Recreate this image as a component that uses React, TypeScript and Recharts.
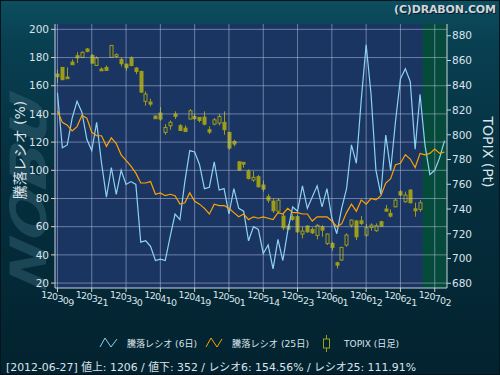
import React from "react";
import {
  ComposedChart,
  Line,
  Bar,
  XAxis,
  YAxis,
  CartesianGrid,
  ReferenceArea,
  ReferenceLine,
} from "recharts";

// trading days (yymmdd)
const dates = [
  "120309", "120312", "120313", "120314", "120315", "120316", "120319", "120321", "120322", "120323",
  "120326", "120327", "120328", "120329", "120330", "120402", "120403", "120404", "120405", "120406",
  "120409", "120410", "120411", "120412", "120413", "120416", "120417", "120418", "120419", "120420",
  "120423", "120424", "120425", "120426", "120427", "120501", "120502", "120507", "120508", "120509",
  "120510", "120511", "120514", "120515", "120516", "120517", "120518", "120521", "120522", "120523",
  "120524", "120525", "120528", "120529", "120530", "120531", "120601", "120604", "120605", "120606",
  "120607", "120608", "120611", "120612", "120613", "120614", "120615", "120618", "120619", "120620",
  "120621", "120622", "120625", "120626", "120627", "120628", "120629", "120702", "120703", "120704",
];

// 騰落レシオ (6日)
const ratio6 = [
  155, 116, 118, 137, 149, 141, 122, 114, 134, 105,
  81, 102, 83, 100, 90, 92, 90, 49, 50, 46,
  36, 37, 36, 53, 69, 65, 92, 114, 113, 104,
  87, 88, 106, 86, 87, 69, 87, 73, 71, 50,
  60, 58, 41, 47, 30, 51, 36, 57, 74, 71,
  89, 73, 81, 89, 74, 87, 66, 55, 73, 87,
  118, 105, 150, 189, 154, 100, 83, 125, 100, 135,
  165, 172, 163, 115, 154, 118, 97, 100, 109, 121,
];

// 騰落レシオ (25日)
const ratio25 = [
  142, 134, 132, 128, 131, 139, 137, 127, 124.5, 124.5,
  117, 123, 119, 111, 107, 103, 98, 91, 91, 92,
  83, 84, 82, 83, 82, 76, 77, 84, 78, 76,
  73, 69, 76, 75, 75, 73, 70, 67, 69, 65,
  67, 66, 67, 66, 65, 70, 69, 73, 70, 70,
  69, 69, 64, 67, 67, 67, 64, 60, 62, 70,
  76, 71, 79, 76, 80, 79, 82, 91, 94, 104,
  105, 111, 108, 102, 112, 111, 112, 115, 112, 113,
];

// TOPIX daily candles
const topixOpen = [
  849, 854.4, 846.6, 858.7, 863.9, 862.5, 869.3, 864.1, 856, 853.1,
  854.4, 862.5, 863.3, 860.9, 857.1, 862, 853.9, 851.2, 827, 826.4,
  815.1, 817.5, 801.9, 807.3, 816.7, 807.3, 805.4, 812.7, 814.8, 814,
  814.3, 804.1, 808.6, 809.4, 810, 801.9, 794.6, 778.2, 777.7, 770.7,
  763.4, 766.1, 759.4, 749.9, 746.4, 738.3, 734.3, 726.2, 733.8, 733.8,
  719.8, 726.2, 723.5, 718.7, 725.7, 712.2, 712.2, 696.6, 698.8, 710.9,
  727, 730.3, 730.5, 718.9, 725.1, 722.5, 729.7, 740, 736.5, 741.8,
  754, 745.9, 755.3, 740.2, 739.7,
];
const topixHigh = [
  852.6, 854.4, 854.4, 860.9, 866.8, 867.4, 870.1, 865.2, 863.3, 854.4,
  856, 872.2, 865.8, 862.2, 857.1, 863.3, 854.7, 851.7, 835, 829.1,
  815.6, 822.4, 808.6, 811.6, 818.9, 808.6, 807.6, 820.8, 816.7, 814,
  818.9, 806.8, 813.5, 816.7, 818.9, 801.9, 796, 778.7, 777.7, 772,
  770.7, 767.4, 762.9, 752.1, 748.6, 748.6, 736.5, 727.8, 735.9, 735.1,
  725.7, 727, 725.1, 727.8, 727, 720.3, 713.6, 697.4, 709.5, 720.3,
  731.6, 731.1, 734.3, 727.8, 728.4, 728.4, 730.5, 743.2, 739.7, 748.6,
  755.3, 754, 755.9, 745.1, 747.2,
];
const topixLow = [
  841.8, 844.5, 845.3, 856.6, 857.9, 862, 866.6, 857.9, 856, 851.7,
  851.7, 862.5, 862, 855.2, 851.7, 855.2, 849, 833.7, 823.5, 822.9,
  813, 811.3, 800, 804.1, 812.7, 803.2, 802.2, 812.7, 812.1, 810,
  807.6, 800.6, 807.6, 807.6, 800, 788, 790.6, 770.9, 773.4, 763.9,
  762, 757.5, 754, 745.1, 737, 736.5, 723, 723, 730.5, 720.8,
  716.3, 720.8, 719.8, 715.5, 717.6, 710.9, 706.3, 692, 698.2, 709.5,
  725.1, 714.9, 727, 717.6, 722.5, 721.6, 725.7, 737.8, 733.2, 741.3,
  750.5, 745.1, 744.5, 733.8, 737.8,
];
const topixClose = [
  846.9, 844.5, 845.3, 856.6, 862.2, 866.6, 867.4, 857.9, 862, 851.7,
  852, 872.2, 864.7, 857.4, 854.2, 856, 851.2, 834.5, 832.9, 824.8,
  813, 812.7, 805.9, 810, 814.8, 803.5, 802.7, 819.4, 813, 811.6,
  808.6, 802.2, 812.1, 814.8, 804.1, 789.3, 792.5, 771.5, 776.3, 764.7,
  765.6, 758, 756.1, 747.2, 738.6, 747.2, 724.9, 723.8, 731.6, 721.6,
  722.2, 721.6, 720.8, 726.8, 723, 719.8, 709, 694.7, 709, 719,
  731.1, 717.6, 728.4, 724.9, 727, 726.5, 726.2, 738.3, 734.3, 747.2,
  751.3, 751.3, 745.1, 738.6, 745.1,
];

const leftTicks = [20, 40, 60, 80, 100, 120, 140, 160, 180, 200];
const rightTicks = [680, 700, 720, 740, 760, 780, 800, 820, 840, 860, 880];
const tickDates = [
  "120309", "120321", "120330", "120410", "120419", "120501",
  "120514", "120523", "120601", "120612", "120621", "120702",
];

const rows = dates.map((d, i) => ({
  d,
  r6: ratio6[i],
  r25: ratio25[i],
  o: topixOpen[i] ?? null,
  h: topixHigh[i] ?? null,
  l: topixLow[i] ?? null,
  c: topixClose[i] ?? null,
}));

const PLOT_BG = "#1b3563";
const GREEN_BG = "#054a3b";
const GRID = "rgba(185,200,225,0.5)";
const CANDLE = "#9d9d18";
const BLUE = "#8dd2f2";
const ORANGE = "#ffa200";
const TEXT = "#dce3ea";
const FONT = "'DejaVu Sans', 'Noto Sans CJK JP', sans-serif";

function Candle(props: any) {
  const { x, y, width, height, payload } = props;
  if (!payload || payload.h == null || x == null || y == null) return null;
  const top = Math.min(y, y + height);
  const bot = Math.max(y, y + height);
  const span = payload.h - payload.l;
  const py = (v: number) => (span === 0 ? top : top + ((payload.h - v) / span) * (bot - top));
  const cx = Math.round(x + width / 2) + 0.5;
  const bTop = py(Math.max(payload.o, payload.c));
  const bBot = py(Math.min(payload.o, payload.c));
  const up = payload.c > payload.o;
  return (
    <g>
      <line x1={cx} x2={cx} y1={top} y2={bot} stroke={CANDLE} strokeWidth={1} />
      <rect
        x={cx - 1.5}
        y={bTop}
        width={3}
        height={Math.max(bBot - bTop, 1.5)}
        fill={up ? PLOT_BG : CANDLE}
        stroke={CANDLE}
        strokeWidth={1}
      />
    </g>
  );
}

function DateTick(props: any) {
  const { x, y, payload } = props;
  const s = String(payload.value);
  const shifts = [0, 1.3, 0.7, 2, 1.5, 2.5];
  return (
    <text x={x} y={y + 4} textAnchor="middle" fill={TEXT} fontSize={9.5} fontFamily={FONT} letterSpacing={-0.7}>
      {s.split("").map((ch, k) => (
        <tspan key={k} dy={shifts[k]}>
          {ch}
        </tspan>
      ))}
    </text>
  );
}

export default function App() {
  const lastCandle = topixOpen.length;
  return (
    <div
      style={{
        position: "absolute",
        left: 0,
        top: 0,
        width: 500,
        height: 375,
        overflow: "hidden",
        background: "linear-gradient(180deg, #0c4e5f 0%, #083f51 12%, #05303f 45%, #03222f 100%)",
        boxShadow: "inset 0 0 0 1px #02141c",
      }}
    >
      <svg width={500} height={375} style={{ position: "absolute", left: 0, top: 0 }}>
        <text
          transform="translate(46,292) rotate(-90) skewX(-12)"
          fontSize={50}
          fontWeight="bold"
          fontStyle="italic"
          fontFamily={FONT}
          fill="#2f5d6e"
          opacity={0.55}
          textLength={195}
          lengthAdjust="spacingAndGlyphs"
        >
          NOBU
        </text>
      </svg>
      <div style={{ position: "absolute", left: 0, top: 0 }}>
        <ComposedChart
          width={500}
          height={375}
          data={rows}
          margin={{ top: 24, right: 0, bottom: 0, left: 0 }}
        >
          <CartesianGrid yAxisId="left" horizontal={false} vertical={false} fill={PLOT_BG} stroke="none" />
          <XAxis
            dataKey="d"
            height={87}
            ticks={tickDates}
            interval={0}
            tick={<DateTick />}
            tickSize={4}
            axisLine={{ stroke: "#c9d3de" }}
            tickLine={{ stroke: "#c9d3de" }}
          />
          <YAxis
            yAxisId="left"
            orientation="left"
            width={55}
            domain={[16.5, 203.8]}
            ticks={leftTicks}
            allowDataOverflow
            tickSize={4}
            tickMargin={2}
            tick={{ fill: TEXT, fontSize: 10.5, fontFamily: FONT }}
            axisLine={{ stroke: "#c9d3de" }}
            tickLine={{ stroke: "#c9d3de" }}
          />
          <YAxis
            yAxisId="right"
            orientation="right"
            width={53}
            domain={[676.2, 889.5]}
            ticks={rightTicks}
            allowDataOverflow
            tickSize={4}
            tickMargin={1}
            tick={{ fill: TEXT, fontSize: 10.5, fontFamily: FONT }}
            axisLine={{ stroke: "#c9d3de" }}
            tickLine={{ stroke: "#c9d3de" }}
          />
          <ReferenceArea
            yAxisId="left"
            x1={dates[lastCandle]}
            x2={dates[dates.length - 1]}
            fill={GREEN_BG}
            fillOpacity={1}
            stroke="none"
          />
          {leftTicks.map((v) => (
            <ReferenceLine key={"h" + v} yAxisId="left" y={v} stroke={GRID} strokeWidth={1} />
          ))}
          {tickDates.map((d) => (
            <ReferenceLine key={"v" + d} yAxisId="left" x={d} stroke={GRID} strokeWidth={1} />
          ))}
          <Bar
            yAxisId="right"
            dataKey={(r: any) => (r.h == null ? null : [r.l, r.h])}
            barSize={5}
            shape={(p: any) => <Candle {...p} />}
            isAnimationActive={false}
          />
          <Line
            yAxisId="left"
            type="linear"
            dataKey="r6"
            stroke={BLUE}
            strokeWidth={1.2}
            dot={false}
            isAnimationActive={false}
          />
          <Line
            yAxisId="left"
            type="linear"
            dataKey="r25"
            stroke={ORANGE}
            strokeWidth={1.2}
            dot={false}
            isAnimationActive={false}
          />
        </ComposedChart>
      </div>
      <svg width={500} height={375} style={{ position: "absolute", left: 0, top: 0, pointerEvents: "none" }}>
        <text x={497} y={14} textAnchor="end" fontSize={11} fontWeight="bold" fontFamily={FONT} fill="#0a1c26" textLength={102}>
          (C)DRABON.COM
        </text>
        <text x={496} y={13} textAnchor="end" fontSize={11} fontWeight="bold" fontFamily={FONT} fill="#cfd6dc" textLength={102}>
          (C)DRABON.COM
        </text>
        <text transform="translate(25,150) rotate(-90)" textAnchor="middle" fontSize={14} fontFamily={FONT} fill={TEXT}>
          騰落レシオ (%)
        </text>
        <text transform="translate(483,152) rotate(90)" textAnchor="middle" fontSize={14} fontFamily={FONT} fill={TEXT}>
          TOPIX (Pt)
        </text>
        <polyline points="100,347 105,338 111,347 117,339" fill="none" stroke={BLUE} strokeWidth={1} />
        <text x={127} y={347} fontSize={9.5} fontFamily={FONT} fill={TEXT} textLength={70} lengthAdjust="spacingAndGlyphs">
          騰落レシオ (6日)
        </text>
        <polyline points="206,347 211,338 217,347 222,339" fill="none" stroke={ORANGE} strokeWidth={1} />
        <text x={232} y={347} fontSize={9.5} fontFamily={FONT} fill={TEXT} textLength={77} lengthAdjust="spacingAndGlyphs">
          騰落レシオ (25日)
        </text>
        <line x1={326.5} x2={326.5} y1={335} y2={352} stroke={CANDLE} strokeWidth={1} />
        <rect x={323.5} y={339} width={6} height={9} fill="#03222f" stroke={CANDLE} strokeWidth={1} />
        <text x={344} y={347} fontSize={9.5} fontFamily={FONT} fill={TEXT} textLength={55} lengthAdjust="spacingAndGlyphs">
          TOPIX (日足)
        </text>
        <text x={6} y={371} fontSize={11} fontFamily={FONT} fill={TEXT} textLength={410} lengthAdjust="spacingAndGlyphs">
          [2012-06-27]  値上: 1206 / 値下: 352 / レシオ6: 154.56% / レシオ25: 111.91%
        </text>
      </svg>
    </div>
  );
}
